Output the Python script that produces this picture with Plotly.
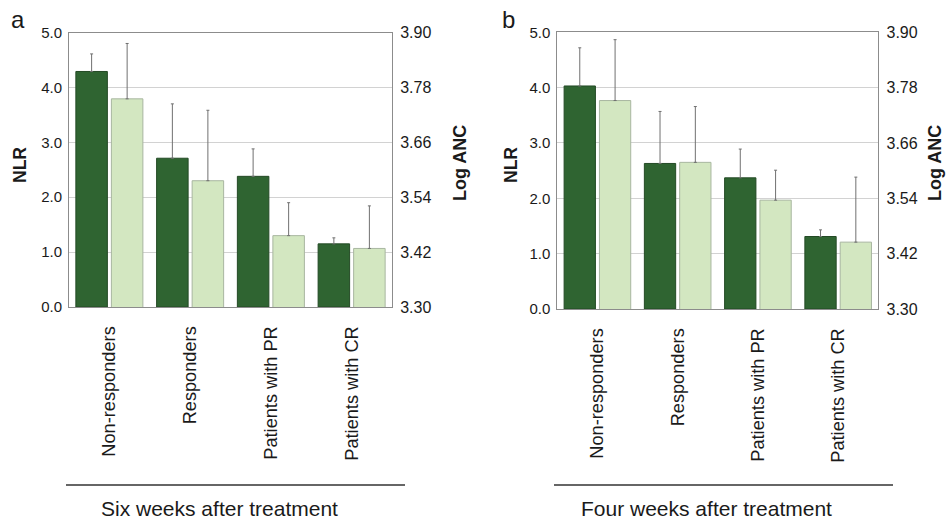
import plotly.graph_objects as go

categories = ["Non-responders", "Responders", "Patients with PR", "Patients with CR"]

# Panel a: six weeks after treatment
nlr_a_mean = [4.29, 2.71, 2.38, 1.15]
nlr_a_err = [0.32, 0.99, 0.50, 0.11]
anc_a_mean = [3.755, 3.576, 3.456, 3.428]
anc_a_err = [0.121, 0.154, 0.072, 0.093]

# Panel b: four weeks after treatment
nlr_b_mean = [4.03, 2.63, 2.37, 1.31]
nlr_b_err = [0.69, 0.94, 0.52, 0.12]
anc_b_mean = [3.752, 3.618, 3.536, 3.445]
anc_b_err = [0.132, 0.121, 0.065, 0.141]

nlr_ticks = [0, 1, 2, 3, 4, 5]
anc_ticks = [3.30, 3.42, 3.54, 3.66, 3.78, 3.90]

W, H = 946, 521
DARK = "#2f6431"
DARK_LINE = "#234a25"
LIGHT = "#d3e7c1"
LIGHT_LINE = "#a8b6a0"
ERR = "#707070"
FRAME = "#8c8c8c"
TXT = "#1a1a1a"
FONT = "Liberation Sans, Arial, sans-serif"


def px(x):
    return x / W


def py(y):
    return 1 - y / H


fig = go.Figure()


def add_panel(xa, ya, ya2, nlr_m, nlr_e, anc_m, anc_e):
    fig.add_trace(go.Bar(
        x=categories, y=nlr_m, xaxis=xa, yaxis=ya,
        offset=-0.415, width=0.39,
        marker=dict(color=DARK, line=dict(color=DARK_LINE, width=1)),
        error_y=dict(type="data", symmetric=False, array=nlr_e,
                     arrayminus=[0] * len(nlr_e), color=ERR, thickness=1, width=1.5),
        showlegend=False, name="NLR"))
    fig.add_trace(go.Bar(
        x=categories, y=anc_m, xaxis=xa, yaxis=ya2,
        offset=0.025, width=0.39,
        marker=dict(color=LIGHT, line=dict(color=LIGHT_LINE, width=1)),
        error_y=dict(type="data", symmetric=False, array=anc_e,
                     arrayminus=[0] * len(anc_e), color=ERR, thickness=1, width=1.5),
        showlegend=False, name="Log ANC"))


add_panel("x", "y", "y2", nlr_a_mean, nlr_a_err, anc_a_mean, anc_a_err)
add_panel("x2", "y3", "y4", nlr_b_mean, nlr_b_err, anc_b_mean, anc_b_err)

xcommon = dict(type="category", range=[-0.5, 3.5], showline=True, mirror=True,
               linecolor=FRAME, linewidth=1, ticks="", tickangle=-90,
               tickfont=dict(size=18.2, color=TXT, family=FONT),
               showgrid=False, zeroline=False, fixedrange=True, automargin=False,
               ticklabelstandoff=11)
ycommon = dict(range=[0, 5], tickvals=nlr_ticks, ticktext=[f"{v:.1f}" for v in nlr_ticks],
               showline=True, linecolor=FRAME, linewidth=1, ticks="",
               tickfont=dict(size=15, color=TXT, family=FONT),
               showgrid=True, gridcolor="#d2d2d2", gridwidth=1, zeroline=False,
               ticklabelstandoff=3, automargin=False)
y2common = dict(range=[3.30, 3.90], tickvals=anc_ticks, ticktext=[f"{v:.2f}" for v in anc_ticks],
                side="right", showline=True, linecolor=FRAME, linewidth=1, ticks="",
                tickfont=dict(size=16, color=TXT, family=FONT),
                showgrid=False, zeroline=False, ticklabelstandoff=4, automargin=False)

fig.update_layout(
    width=W, height=H,
    margin=dict(l=0, r=0, t=0, b=0, pad=0),
    paper_bgcolor="white", plot_bgcolor="white",
    font=dict(family=FONT, color=TXT),
    xaxis=dict(domain=[px(69), px(392)], anchor="y", **xcommon),
    yaxis=dict(domain=[py(307), py(32.5)], anchor="x", **ycommon),
    yaxis2=dict(overlaying="y", anchor="x", **y2common),
    xaxis2=dict(domain=[px(557.3), px(878.3)], anchor="y3", **xcommon),
    yaxis3=dict(domain=[py(309), py(32.3)], anchor="x2", **ycommon),
    yaxis4=dict(overlaying="y3", anchor="x2", **y2common),
)

annotations = [
    dict(text="a", x=px(18), y=py(19), font=dict(size=24)),
    dict(text="b", x=px(508), y=py(19), font=dict(size=24)),
    dict(text="<b>NLR</b>", x=px(20), y=py(165), textangle=-90, font=dict(size=17.5)),
    dict(text="<b>Log ANC</b>", x=px(460), y=py(163), textangle=-90, font=dict(size=18)),
    dict(text="<b>NLR</b>", x=px(511), y=py(165), textangle=-90, font=dict(size=17.5)),
    dict(text="<b>Log ANC</b>", x=px(935), y=py(163), textangle=-90, font=dict(size=18)),
    dict(text="Six weeks after treatment", x=px(219), y=py(508), font=dict(size=21)),
    dict(text="Four weeks after treatment", x=px(706), y=py(508), font=dict(size=21)),
]
for a in annotations:
    a.update(xref="paper", yref="paper", showarrow=False, xanchor="center", yanchor="middle")
    a["font"].update(family=FONT, color=TXT)
fig.update_layout(annotations=annotations)

fig.add_shape(type="line", xref="paper", yref="paper", x0=px(66), x1=px(405), y0=py(485), y1=py(485),
              line=dict(color="#333333", width=1.5))
fig.add_shape(type="line", xref="paper", yref="paper", x0=px(554), x1=px(893), y0=py(485), y1=py(485),
              line=dict(color="#333333", width=1.5))

# remove the browser's default body margin so the 946x521 figure fills the window exactly
fig.write_html("out.html", config={"displayModeBar": False},
               post_script="document.body.style.margin='0';document.body.style.overflow='hidden';")
